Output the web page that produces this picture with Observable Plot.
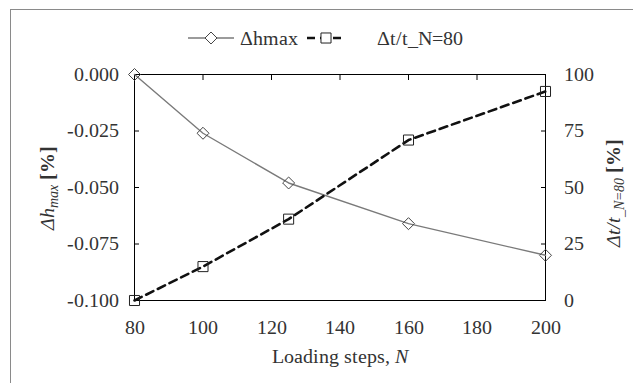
<!DOCTYPE html>
<html><head><meta charset="utf-8">
<script src="https://cdn.jsdelivr.net/npm/d3@7"></script>
<script src="https://cdn.jsdelivr.net/npm/@observablehq/plot@0.6"></script>
<style>
@font-face{font-family:"ChartSerif";src:local("Liberation Serif"),local("LiberationSerif"),local("LiberationSerif-Regular");font-style:normal;font-weight:400;}
@font-face{font-family:"ChartSerif";src:local("Liberation Serif Italic"),local("LiberationSerif-Italic");font-style:italic;font-weight:400;}
@font-face{font-family:"ChartSerif";src:local("Liberation Serif Bold"),local("LiberationSerif-Bold");font-style:normal;font-weight:700;}
body{margin:0;background:#fff;}
#wrap{position:relative;width:633px;height:383px;overflow:hidden;background:#fff;font-family:ChartSerif,'Liberation Serif',serif;font-size:20px;color:#333;}
#border{position:absolute;left:10px;top:9px;width:700px;height:400px;border-left:1px solid #8a8a8a;border-top:1px solid #8a8a8a;}
#chart{position:absolute;left:0;top:0;}
#chart text{font-family:ChartSerif,'Liberation Serif',serif;}
.lbl{position:absolute;white-space:nowrap;line-height:1;transform:translate(-50%,-50%);}
.rot{transform:translate(-50%,-50%) rotate(-90deg);}
.sub{font-size:14px;position:relative;top:4px;}
.leg{position:absolute;top:27px;height:22px;line-height:22px;white-space:nowrap;}
.leg svg{position:absolute;top:0;}
</style>
</head><body>
<div id="wrap">
  <div id="border"></div>
  <div id="chart"></div>
  <div class="leg" style="left:188px;width:120px"><svg width="48" height="22" id="sym1"></svg><span style="position:absolute;left:52px">Δhmax</span></div>
  <div class="leg" style="left:306px;width:170px"><svg width="42" height="22" id="sym2"></svg><span style="position:absolute;left:71px">Δt/t_N=80</span></div>
  <div class="lbl" style="left:340px;top:356px">Loading steps, <i>N</i></div>
  <div class="lbl rot" style="left:47px;top:188px"><i>Δh</i><i class="sub">max</i> <b>[%]</b></div>
  <div class="lbl rot" style="left:613px;top:193px"><i>Δt/t</i><i class="sub">_N=80</i> <b>[%]</b></div>
</div>
<script>
// ---- data ----
const steps = [80, 100, 125, 160, 200];
const dhmax = [0.000, -0.026, -0.048, -0.066, -0.080];
const dtRatio = [0, 15, 36, 71, 92.5];
const xTicks = [80, 100, 120, 140, 160, 180, 200];
const leftTicks = [0, -0.025, -0.05, -0.075, -0.1];
const rightTicks = [0, 25, 50, 75, 100];

// secondary axis mapping (0..100 -> -0.1..0)
const toY = v => -0.1 + v / 1000;
const fromY = y => Math.round((y + 0.1) * 1000);

const textColor = "#333";

const dataH = steps.map((s, i) => ({x: s, y: dhmax[i]}));
const dataT = steps.map((s, i) => ({x: s, y: toY(dtRatio[i])}));

const plot = Plot.plot({
  width: 633, height: 383,
  marginLeft: 134, marginRight: 88, marginTop: 74, marginBottom: 83,
  x: {domain: [80, 200]},
  y: {domain: [-0.1, 0]},
  style: "font-family:ChartSerif,'Liberation Serif',serif;font-size:20px;color:#333;background:transparent;overflow:visible",
  marks: [
    Plot.axisX(xTicks, {anchor: "bottom", tickSize: 0, tickPadding: 19, tickFormat: d => String(d), label: null, fontSize: 20, fill: textColor}),
    Plot.axisX(xTicks.slice(1, -1), {anchor: "top", tickSize: -5, tickFormat: () => "", label: null, stroke: "#000"}),
    Plot.axisY(leftTicks, {anchor: "left", tickSize: 0, tickPadding: 16, tickFormat: d => d.toFixed(3), label: null, fontSize: 20, fill: textColor}),
    Plot.axisY(leftTicks.slice(1, -1), {anchor: "left", tickSize: -5, tickFormat: () => "", label: null, stroke: "#000"}),
    Plot.axisY(rightTicks.map(toY), {anchor: "right", tickSize: 0, tickPadding: 18, tickFormat: d => String(fromY(d)), label: null, fontSize: 20, fill: textColor}),
    Plot.axisY(rightTicks.slice(1, -1).map(toY), {anchor: "right", tickSize: -5, tickFormat: () => "", label: null, stroke: "#000"}),
    Plot.frame({stroke: "#000", strokeWidth: 1}),
    Plot.line(dataH, {x: "x", y: "y", stroke: "#7a7a7a", strokeWidth: 1.4}),
    Plot.dot(dataH, {x: "x", y: "y", symbol: "diamond2", r: 5.4, stroke: "#444", fill: "none", strokeWidth: 1}),
    Plot.line(dataT, {x: "x", y: "y", stroke: "#111", strokeWidth: 2.6, strokeDasharray: "8,5"}),
    Plot.dot(dataT, {x: "x", y: "y", symbol: "square2", r: 6.4, stroke: "#222", fill: "none", strokeWidth: 1})
  ]
});
document.getElementById("chart").appendChild(plot);

// Legend symbols
const s1 = d3.select("#sym1");
s1.append("line").attr("x1", 0).attr("x2", 46).attr("y1", 11).attr("y2", 11).attr("stroke", "#7a7a7a").attr("stroke-width", 1.4);
s1.append("path").attr("d", d3.symbol(d3.symbolDiamond2, Math.PI * 5.4 * 5.4)()).attr("transform", "translate(23,11)")
  .attr("fill", "#fff").attr("stroke", "#444");
const s2 = d3.select("#sym2");
s2.append("line").attr("x1", 1).attr("x2", 40).attr("y1", 11).attr("y2", 11).attr("stroke", "#111").attr("stroke-width", 2.6).attr("stroke-dasharray", "8,5");
s2.append("path").attr("d", d3.symbol(d3.symbolSquare2, Math.PI * 6.4 * 6.4)()).attr("transform", "translate(20,11)")
  .attr("fill", "#fff").attr("stroke", "#222");
</script>
</body></html>
